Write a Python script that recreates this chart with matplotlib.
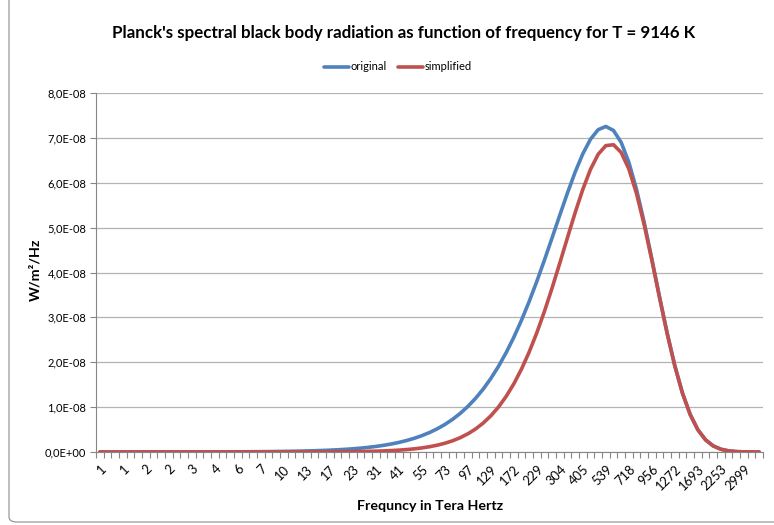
import numpy as np
import matplotlib
matplotlib.use("Agg")
import matplotlib.pyplot as plt
from matplotlib.patches import FancyBboxPatch

plt.rcParams['font.family'] = ['Lato', 'DejaVu Sans']

# frequency categories (THz), every third one is labelled on the axis
tick_labels = ["1", "1", "2", "2", "3", "4", "6", "7", "10", "13", "17", "23", "31",
               "41", "55", "73", "97", "129", "172", "229", "304", "405", "539",
               "718", "956", "1272", "1693", "2253", "2999"]

# radiance in units of 1E-08 W/m2/Hz, one value per category (87 categories)
original = [0.0001, 0.0002, 0.0002, 0.0003, 0.0003, 0.0004, 0.0004, 0.0005, 0.0006, 0.0008,
            0.0009, 0.0011, 0.0014, 0.0017, 0.0020, 0.0024, 0.0029, 0.0035, 0.0042, 0.0051,
            0.0063, 0.0076, 0.0091, 0.0110, 0.0133, 0.0160, 0.0193, 0.0233, 0.0281, 0.0339,
            0.0409, 0.0492, 0.0593, 0.0713, 0.0857, 0.1030, 0.1237, 0.1484, 0.1780, 0.2132,
            0.2551, 0.3048, 0.3638, 0.4336, 0.5160, 0.6130, 0.7267, 0.8597, 1.0145, 1.1941,
            1.4011, 1.6385, 1.9088, 2.2146, 2.5571, 2.9371, 3.3534, 3.8031, 4.2808, 4.7775,
            5.2811, 5.7749, 6.2380, 6.6457, 6.9701, 7.1824, 7.2549, 7.1651, 6.8994, 6.4571,
            5.8530, 5.1193, 4.3025, 3.4590, 2.6476, 1.9190, 1.3096, 0.8362, 0.4963, 0.2717,
            0.1361, 0.0618, 0.0252, 0.0091, 0.0029, 0.0008, 0.0002]

simplified = [0.0, 0.0, 0.0, 0.0, 0.0, 0.0, 0.0, 0.0, 0.0, 0.0,
              0.0, 0.0, 0.0, 0.0, 0.0001, 0.0001, 0.0001, 0.0001, 0.0001, 0.0002,
              0.0002, 0.0003, 0.0004, 0.0005, 0.0007, 0.0009, 0.0012, 0.0016, 0.0021, 0.0027,
              0.0036, 0.0047, 0.0062, 0.0082, 0.0108, 0.0141, 0.0185, 0.0243, 0.0317, 0.0414,
              0.0539, 0.0701, 0.0909, 0.1175, 0.1516, 0.1948, 0.2496, 0.3185, 0.4048, 0.5120,
              0.6443, 0.8064, 1.0029, 1.2392, 1.5194, 1.8480, 2.2274, 2.6581, 3.1377, 3.6597,
              4.2124, 4.7789, 5.3355, 5.8534, 6.2982, 6.6345, 6.8271, 6.8467, 6.6748, 6.3077,
              5.7603, 5.0655, 4.2739, 3.4451, 2.6414, 1.9166, 1.3087, 0.8360, 0.4962, 0.2717,
              0.1361, 0.0618, 0.0252, 0.0091, 0.0029, 0.0008, 0.0002]

W, H = 774, 525
fig = plt.figure(figsize=(W / 100, H / 100), dpi=100)
ax = fig.add_axes([96 / W, 1 - 452 / H, (763 - 96) / W, (452 - 93) / H])

# chart area border
fig.patches.append(FancyBboxPatch((9 / W, 3 / H), 1.2, 1.2, boxstyle="round,pad=0,rounding_size=0.01",
                                  transform=fig.transFigure, fill=False, ec="#8c8c8c", lw=0.8))

x = np.arange(len(original))
ax.plot(x, original, color="#4f81bd", lw=2.6, label="original", solid_capstyle="round", zorder=3)
ax.plot(x, simplified, color="#c0504d", lw=2.6, label="simplified", solid_capstyle="round", zorder=4)

ax.set_xlim(-0.5, len(original) - 0.5)
ax.set_ylim(0, 8)

ax.set_xticks(x[::3])
ax.set_xticklabels(tick_labels, rotation=45, ha="right", va="top", rotation_mode="anchor", fontsize=9.3)
ax.set_xticks(np.arange(-0.5, len(original), 1), minor=True)
ax.tick_params(axis="x", which="major", length=0, pad=8)
ax.tick_params(axis="x", which="minor", length=4, color="#868686", width=0.8)

yt = np.arange(0, 9)
ax.set_yticks(yt)
ax.set_yticklabels(["0,0E+00"] + [f"{v:.1f}E-08".replace(".", ",") for v in yt[1:]], fontsize=8)
ax.tick_params(axis="y", length=4, color="#868686", width=0.8, pad=3)
ax.grid(axis="y", color="#b3b3b3", lw=0.9)
ax.set_axisbelow(True)

for s in ["top", "right"]:
    ax.spines[s].set_visible(False)
for s in ["left", "bottom"]:
    ax.spines[s].set_color("#868686")
    ax.spines[s].set_linewidth(0.8)

fig.text(404 / W, 1 - 33 / H, "Planck's spectral black body radiation as function of frequency for T = 9146 K",
         ha="center", va="center", fontsize=12.2, fontweight="bold")
fig.text(35 / W, 1 - 270 / H, "W/m²/Hz", rotation=90, ha="center", va="center",
         fontsize=10.3, fontweight="bold")
fig.text(430 / W, 1 - 506 / H, "Frequncy in Tera Hertz", ha="center", va="center",
         fontsize=10.3, fontweight="bold")

fig.legend(loc="center", bbox_to_anchor=(398 / W, 1 - 67 / H), ncol=2, frameon=False,
           fontsize=8, handlelength=2.2, handletextpad=0.2, columnspacing=1.0)

fig.savefig("out.png", dpi=100)
